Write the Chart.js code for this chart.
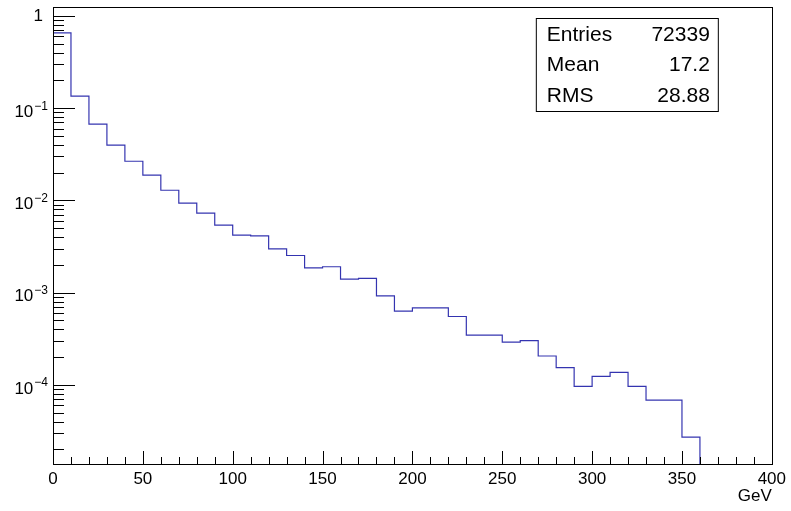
<!DOCTYPE html>
<html lang="en">
<head>
    <meta charset="UTF-8">
    <title>GeV histogram</title>
    <script src="https://cdn.jsdelivr.net/npm/chart.js@4.4.0/dist/chart.umd.min.js"></script>
    <style>
        html, body { margin: 0; padding: 0; background: #fff; }
        #wrap { width: 791px; height: 511px; }
    </style>
</head>
<body>
    <div id="wrap"><canvas id="hist" width="791" height="511"></canvas></div>

    <script>
        // Histogram data (bin edges in GeV, normalised contents)
        const binEdges = [0, 10, 20, 30, 40, 50, 60, 70, 80, 90, 100, 110, 120, 130, 140, 150, 160, 170, 180,
                          190, 200, 210, 220, 230, 240, 250, 260, 270, 280, 290, 300, 310, 320, 330, 340, 350, 360];
        const binContents = [0.654, 0.135, 0.0671, 0.0397, 0.0266, 0.0188, 0.0129, 0.00935, 0.00728, 0.0054,
                             0.00421, 0.00413, 0.00299, 0.00253, 0.00186, 0.00191, 0.0014, 0.00143, 0.000925,
                             0.000631, 0.000686, 0.000686, 0.000552, 0.000347, 0.000347, 0.000291, 0.000303,
                             0.000206, 0.000154, 0.0000964, 0.000124, 0.000137, 0.0000964, 0.0000686, 0.0000686,
                             0.0000272];

        // Axis ticks
        const xTickValues = [0, 50, 100, 150, 200, 250, 300, 350, 400];
        const yTickValues = [1e-4, 1e-3, 1e-2, 1e-1, 1];
        const yTickBase = ['10', '10', '10', '10', '1'];
        const yTickExp = ['\u22124', '\u22123', '\u22122', '\u22121', ''];

        // Stats box
        const statsNames = ['Entries', 'Mean', 'RMS'];
        const statsValues = ['72339', '17.2', '28.88'];

        const yMin = 1.39e-5;
        const yMax = 1.25;
        const FONT = "'Liberation Sans', Arial, Helvetica, sans-serif";
        const lineColor = '#3434b0';

        // step points: the line holds each bin content until the next edge,
        // the last edge drops below the axis (empty bins)
        const points = [{ x: binEdges[0], y: binContents[0] }];
        for (let i = 1; i < binEdges.length; i++) {
            points.push({ x: binEdges[i], y: i < binContents.length ? binContents[i] : yMin / 10 });
        }

        // ROOT-style frame, inward ticks, y labels and stats box
        const rootStyle = {
            id: 'rootStyle',
            afterDraw(chart) {
                const { ctx, chartArea: a, scales: { x, y } } = chart;
                ctx.save();
                ctx.strokeStyle = '#000';
                ctx.lineWidth = 1;

                // x ticks: every 10, major every 50
                ctx.beginPath();
                for (let v = 0; v <= 400; v += 10) {
                    const px = Math.round(x.getPixelForValue(v)) + 0.5;
                    const len = v % 50 === 0 ? 13 : 7;
                    ctx.moveTo(px, a.bottom);
                    ctx.lineTo(px, a.bottom - len);
                }
                // y ticks: decades major, 2..9 minor
                for (let k = -5; k <= 0; k++) {
                    for (let m = 1; m <= 9; m++) {
                        const v = m * Math.pow(10, k);
                        if (v < yMin || v > yMax) continue;
                        const py = Math.round(y.getPixelForValue(v)) + 0.5;
                        const len = m === 1 ? 22 : 11;
                        ctx.moveTo(a.left, py);
                        ctx.lineTo(a.left + len, py);
                    }
                }
                ctx.stroke();

                // frame
                ctx.strokeRect(Math.round(a.left) + 0.5, Math.round(a.top) + 0.5,
                               Math.round(a.right - a.left), Math.round(a.bottom - a.top));

                // y labels with superscript exponents
                ctx.fillStyle = '#000';
                ctx.textBaseline = 'middle';
                ctx.textAlign = 'right';
                yTickValues.forEach((v, i) => {
                    const py = y.getPixelForValue(v);
                    if (yTickExp[i]) {
                        ctx.font = '12px ' + FONT;
                        ctx.fillText(yTickExp[i], a.left - 5, py - 2);
                        const w = ctx.measureText(yTickExp[i]).width;
                        ctx.font = '17px ' + FONT;
                        ctx.fillText(yTickBase[i], a.left - 6 - w, py + 4);
                    } else {
                        ctx.font = '17px ' + FONT;
                        ctx.fillText(yTickBase[i], a.left - 10, py + 0.5);
                    }
                });

                // stats box
                const bx = a.right - 236, by = a.top + 11, bw = 182, bh = 93;
                ctx.fillStyle = '#fff';
                ctx.fillRect(bx, by, bw, bh);
                ctx.strokeRect(bx + 0.5, by + 0.5, bw, bh);
                ctx.fillStyle = '#000';
                ctx.font = '21px ' + FONT;
                ctx.textBaseline = 'middle';
                statsNames.forEach((name, i) => {
                    const ty = by + 17 + i * 30.5;
                    ctx.textAlign = 'left';
                    ctx.fillText(name, bx + 11, ty);
                    ctx.textAlign = 'right';
                    ctx.fillText(statsValues[i], bx + bw - 8, ty);
                });
                ctx.restore();
            }
        };

        const ctx = document.getElementById('hist').getContext('2d');
        new Chart(ctx, {
            type: 'line',
            data: {
                datasets: [{
                    data: points,
                    stepped: 'before',
                    borderColor: lineColor,
                    borderWidth: 1.2,
                    pointRadius: 0,
                    fill: false
                }]
            },
            options: {
                responsive: false,
                animation: false,
                layout: { padding: { top: 7, right: 18, left: 0, bottom: 0 } },
                plugins: {
                    legend: { display: false },
                    tooltip: { enabled: false }
                },
                scales: {
                    x: {
                        type: 'linear',
                        min: 0,
                        max: 400,
                        afterFit: (scale) => { scale.height = 47; },
                        afterBuildTicks: (scale) => { scale.ticks = xTickValues.map(v => ({ value: v })); },
                        grid: { display: false, drawTicks: false },
                        border: { display: false },
                        ticks: {
                            autoSkip: false,
                            maxRotation: 0,
                            padding: 5,
                            color: '#000',
                            font: { family: FONT, size: 17 },
                            callback: (v) => String(v)
                        },
                        title: {
                            display: true,
                            text: 'GeV',
                            align: 'end',
                            color: '#000',
                            font: { family: FONT, size: 17 },
                            padding: { top: 0, bottom: 4 }
                        }
                    },
                    y: {
                        type: 'logarithmic',
                        min: yMin,
                        max: yMax,
                        afterFit: (scale) => { scale.width = 53; },
                        afterBuildTicks: (scale) => { scale.ticks = yTickValues.map(v => ({ value: v })); },
                        grid: { display: false, drawTicks: false },
                        border: { display: false },
                        ticks: { display: false }
                    }
                }
            },
            plugins: [rootStyle]
        });
    </script>
</body>
</html>
